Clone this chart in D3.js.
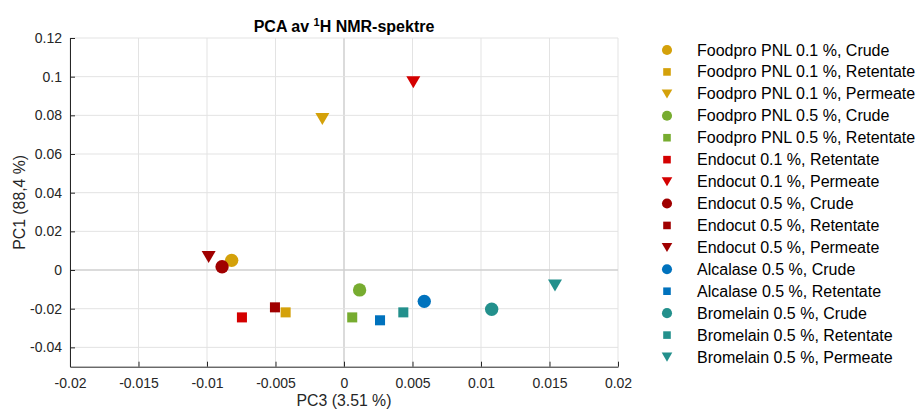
<!DOCTYPE html>
<html>
<head>
<meta charset="utf-8">
<script src="https://cdn.jsdelivr.net/npm/d3@7"></script>
<style>
  body { margin: 0; background: #fff; }
  svg text { font-family: "Liberation Sans", Arial, sans-serif; }
</style>
</head>
<body>
<div id="chart"></div>
<script>
// data
var seriesNames = [
  "Foodpro PNL 0.1 %, Crude",
  "Foodpro PNL 0.1 %, Retentate",
  "Foodpro PNL 0.1 %, Permeate",
  "Foodpro PNL 0.5 %, Crude",
  "Foodpro PNL 0.5 %, Retentate",
  "Endocut 0.1 %, Retentate",
  "Endocut 0.1 %, Permeate",
  "Endocut 0.5 %, Crude",
  "Endocut 0.5 %, Retentate",
  "Endocut 0.5 %, Permeate",
  "Alcalase 0.5 %, Crude",
  "Alcalase 0.5 %, Retentate",
  "Bromelain 0.5 %, Crude",
  "Bromelain 0.5 %, Retentate",
  "Bromelain 0.5 %, Permeate"
];
var pc3 = [-0.0082, -0.00426, -0.00158, 0.00114, 0.0006, -0.00745, 0.00506, -0.0089, -0.00504, -0.00988, 0.00586, 0.00263, 0.01078, 0.00433, 0.0154];
var pc1 = [0.005, -0.0219, 0.0782, -0.0103, -0.0245, -0.0245, 0.0972, 0.0017, -0.0193, 0.0068, -0.0162, -0.026, -0.0203, -0.0219, -0.0079];
var shapes = ["circle", "square", "triangle", "circle", "square", "square", "triangle", "circle", "square", "triangle", "circle", "square", "circle", "square", "triangle"];
var colors = ["#D4A10A", "#D4A10A", "#D4A10A", "#77AC30", "#77AC30", "#D40000", "#D40000", "#A00000", "#A00000", "#A00000", "#0072BD", "#0072BD", "#23908C", "#23908C", "#23908C"];
var xTicks = [-0.02, -0.015, -0.01, -0.005, 0, 0.005, 0.01, 0.015, 0.02];
var yTicks = [-0.04, -0.02, 0, 0.02, 0.04, 0.06, 0.08, 0.1, 0.12];

var W = 917, H = 410;
var margin = {top: 38, right: 299, bottom: 43.3, left: 70};
var width = W - margin.left - margin.right,
    height = H - margin.top - margin.bottom;

var svg = d3.select("#chart").append("svg")
  .attr("width", W).attr("height", H);
var g = svg.append("g")
  .attr("transform", "translate(" + margin.left + "," + margin.top + ")");

var x = d3.scaleLinear().domain([-0.02, 0.02]).range([0, width]);
var y = d3.scaleLinear().domain([-0.05, 0.12]).range([height, 0]);

// grid
g.append("g").selectAll("line").data(xTicks).enter().append("line")
  .attr("x1", function(d) { return x(d); }).attr("x2", function(d) { return x(d); })
  .attr("y1", 0).attr("y2", height)
  .attr("stroke", function(d) { return d === 0 ? "#cfcfcf" : "#e3e3e3"; })
  .attr("stroke-width", function(d) { return d === 0 ? 1.5 : 1; });
g.append("g").selectAll("line").data(yTicks).enter().append("line")
  .attr("y1", function(d) { return y(d); }).attr("y2", function(d) { return y(d); })
  .attr("x1", 0).attr("x2", width)
  .attr("stroke", function(d) { return d === 0 ? "#cfcfcf" : "#e3e3e3"; })
  .attr("stroke-width", function(d) { return d === 0 ? 1.5 : 1; });

// axes
var fmt = function(d) { return d === 0 ? "0" : String(+d.toFixed(3)); };
var xAxis = g.append("g")
  .attr("transform", "translate(0," + height + ")")
  .call(d3.axisBottom(x).tickValues(xTicks).tickFormat(fmt).tickSizeInner(-5).tickSizeOuter(0).tickPadding(11));
var yAxis = g.append("g")
  .call(d3.axisLeft(y).tickValues(yTicks).tickFormat(fmt).tickSizeInner(-5).tickSizeOuter(0).tickPadding(8));
[xAxis, yAxis].forEach(function(a) {
  a.select(".domain").attr("stroke", "#262626");
  a.selectAll(".tick line").attr("stroke", "#262626");
  a.selectAll(".tick text").attr("fill", "#262626").style("font-size", "14px");
});

// markers
function symbolFor(shape, size) {
  if (shape === "circle") return d3.symbol().type(d3.symbolCircle).size(size * 1.0)();
  if (shape === "square") return d3.symbol().type(d3.symbolSquare).size(size * 0.72)();
  // downward triangle
  var s = Math.sqrt(size * 1.4);
  return "M" + (-s / 2) + "," + (-s * 0.42) + "L" + (s / 2) + "," + (-s * 0.42) + "L0," + (s * 0.44) + "Z";
}

var pts = d3.range(seriesNames.length);
g.append("g").selectAll("path").data(pts).enter().append("path")
  .attr("transform", function(i) { return "translate(" + x(pc3[i]) + "," + y(pc1[i]) + ")"; })
  .attr("d", function(i) { return symbolFor(shapes[i], 140); })
  .attr("fill", function(i) { return colors[i]; });

// title
var title = svg.append("text")
  .attr("x", margin.left + width / 2).attr("y", 32)
  .attr("text-anchor", "middle")
  .style("font-size", "16px").style("font-weight", "bold").attr("fill", "#000");
title.append("tspan").text("PCA av ");
title.append("tspan").attr("dy", -6).style("font-size", "11px").text("1");
title.append("tspan").attr("dy", 6).text("H NMR-spektre");

// axis labels
svg.append("text")
  .attr("x", margin.left + width / 2).attr("y", 406)
  .attr("text-anchor", "middle")
  .style("font-size", "15.8px").attr("fill", "#262626")
  .text("PC3 (3.51 %)");
svg.append("text")
  .attr("transform", "translate(25," + (margin.top + y(0.035)) + ") rotate(-90)")
  .attr("text-anchor", "middle")
  .style("font-size", "15.8px").attr("fill", "#262626")
  .text("PC1 (88,4 %)");

// legend
var legend = svg.append("g").attr("transform", "translate(667,50)");
var rows = legend.selectAll("g").data(pts).enter().append("g")
  .attr("transform", function(i) { return "translate(0," + (i * 21.93) + ")"; });
rows.append("path")
  .attr("d", function(i) { return symbolFor(shapes[i], 80); })
  .attr("fill", function(i) { return colors[i]; });
rows.append("text")
  .attr("x", 30).attr("y", 5.5)
  .style("font-size", "16px").attr("fill", "#000")
  .text(function(i) { return seriesNames[i]; });
</script>
</body>
</html>
